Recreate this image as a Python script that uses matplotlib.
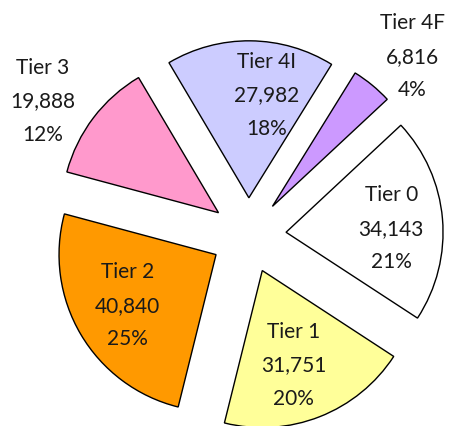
import numpy as np
import matplotlib.pyplot as plt

plt.rcParams['font.family'] = ['Lato', 'DejaVu Sans']

# data
tiers = ['Tier 0', 'Tier 1', 'Tier 2', 'Tier 3', 'Tier 4I', 'Tier 4F']
counts = [34143, 31751, 40840, 19888, 27982, 6816]
pct_labels = [21, 20, 25, 12, 18, 4]
colors = ['#FFFFFF', '#FFFF99', '#FF9900', '#FF99CC', '#CCCCFF', '#CC99FF']

# label placement: distance from wedge tip (in radii) and angle nudge (deg)
label_dist = [0.67, 0.63, 0.65, 1.33, 0.67, 1.31]
label_nudge = [-2.5, -3, -1, 4.7, -9, -3.5]

fig = plt.figure(figsize=(4.56, 4.27), dpi=100)
ax = fig.add_axes([0, 0, 1, 1])

wedges, _ = ax.pie(counts, colors=colors, startangle=43, counterclock=False,
                   explode=[0.24] * len(counts), radius=1,
                   wedgeprops=dict(edgecolor='black', linewidth=1))

for w, name, n, p, d, nudge in zip(wedges, tiers, counts, pct_labels, label_dist, label_nudge):
    ang = np.deg2rad((w.theta1 + w.theta2) / 2 + nudge)
    cx, cy = w.center
    ax.text(cx + d * np.cos(ang), cy + d * np.sin(ang),
            '{}\n{:,}\n{}%'.format(name, n, p),
            ha='center', va='center', fontsize=15,
            linespacing=1.85, color='#1a1a1a')

# one data unit = 157 px, pie centre at (248.5, 236.5) px from top-left
ax.set_xlim(-248.5 / 157, (456 - 248.5) / 157)
ax.set_ylim((236.5 - 427) / 157, 236.5 / 157)
ax.set_aspect('auto')
ax.axis('off')

fig.savefig('out.png', dpi=100)
